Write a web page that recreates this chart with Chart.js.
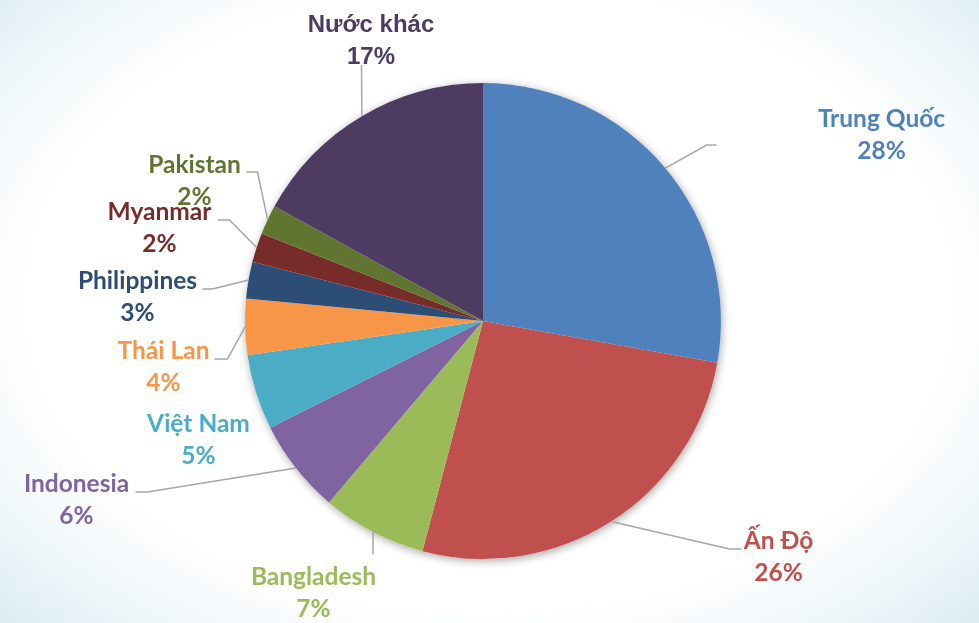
<!DOCTYPE html>
<html>
<head>
<meta charset="utf-8">
<script src="https://cdn.jsdelivr.net/npm/chart.js@4/dist/chart.umd.min.js"></script>
<style>
  html, body { margin: 0; padding: 0; }
  #wrap {
    width: 979px;
    height: 623px;
    position: relative;
    background: radial-gradient(ellipse 75% 80% at 50% 48%, #ffffff 62%, #eef6f9 80%, #d1e6ee 100%);
  }
</style>
</head>
<body>
<div id="wrap"><canvas id="pieCanvas"></canvas></div>
<script>
// Du lieu
const countries = ["Trung Quốc", "Ấn Độ", "Bangladesh", "Indonesia", "Việt Nam", "Thái Lan", "Philippines", "Myanmar", "Pakistan", "Nước khác"];
const shares = [27.8, 26.3, 7.1, 6.4, 5.1, 3.8, 2.5, 2.0, 2.0, 17.0];
const colors = ["#4F81BD", "#C0504D", "#9BBB59", "#8064A2", "#4BACC6", "#F79646", "#2C4D75", "#772C2A", "#5F7530", "#4D3B62"];

// vi tri nhan, tinh tu tam hinh tron (px)
const labelPos = [
    { x: 398.5, y: -194, elbow: [223.5, -176], end: [233.5, -176] },
    { x: 295.5, y: 228, elbow: [246.5, 228], end: [258.5, 228] },
    { x: -169.5, y: 264, elbow: null, end: [-110, 233] },
    { x: -406.5, y: 171, elbow: [-335.5, 171], end: [-347.5, 171] },
    { x: -284.5, y: 111, elbow: null, end: null },
    { x: -319.5, y: 38, elbow: [-255.5, 38], end: [-268.5, 38] },
    { x: -345.5, y: -32, elbow: [-270.5, -32], end: [-280.5, -32] },
    { x: -323.5, y: -101, elbow: [-253.5, -101], end: [-265.5, -101] },
    { x: -288.5, y: -148, elbow: [-225.5, -149], end: [-236.5, -149] },
    { x: -112, y: -289, elbow: null, end: [-121.5, -256] },
];

const pieShadow = {
    id: "pieShadow",
    beforeDatasetsDraw(chart) {
        const arc = chart.getDatasetMeta(0).data[0];
        const ctx = chart.ctx;
        ctx.save();
        ctx.shadowColor = "rgba(0,0,0,0.35)";
        ctx.shadowBlur = 9;
        ctx.shadowOffsetX = 1;
        ctx.shadowOffsetY = 2;
        ctx.fillStyle = "#ffffff";
        ctx.beginPath();
        ctx.arc(arc.x, arc.y, arc.outerRadius, 0, Math.PI * 2);
        ctx.fill();
        ctx.restore();
    }
};

const pieLabels = {
    id: "pieLabels",
    afterDatasetsDraw(chart) {
        const ctx = chart.ctx;
        const meta = chart.getDatasetMeta(0);
        const total = shares.reduce((a, b) => a + b, 0);
        ctx.save();
        meta.data.forEach((arc, i) => {
            const cx = arc.x, cy = arc.y;
            const lp = labelPos[i];
            // duong dan
            if (lp.end) {
                const mid = (arc.startAngle + arc.endAngle) / 2;
                const sx = cx + Math.cos(mid) * arc.outerRadius;
                const sy = cy + Math.sin(mid) * arc.outerRadius;
                ctx.strokeStyle = "#a6a6a6";
                ctx.lineWidth = 1.5;
                ctx.beginPath();
                ctx.moveTo(sx, sy);
                if (lp.elbow) ctx.lineTo(cx + lp.elbow[0], cy + lp.elbow[1]);
                ctx.lineTo(cx + lp.end[0], cy + lp.end[1]);
                ctx.stroke();
            }
            const pct = Math.round(shares[i] / total * 100) + "%";
            ctx.fillStyle = colors[i];
            ctx.textAlign = "center";
            ctx.textBaseline = "alphabetic";
            ctx.font = i === 9 ? "bold 24px 'Liberation Sans', Arial" : "bold 24.5px Lato, 'Open Sans'";
            ctx.fillText(countries[i], cx + lp.x, cy + lp.y);
            ctx.fillText(pct, cx + lp.x, cy + lp.y + 32);
        });
        ctx.restore();
    }
};

const pieCanvas = document.getElementById("pieCanvas");

const pieChart = new Chart(pieCanvas, {
    type: "pie",
    data: {
        labels: countries,
        datasets: [
            {
                data: shares,
                backgroundColor: colors,
                borderWidth: 0,
                hoverOffset: 0,
            },
        ],
    },
    options: {
        responsive: true,
        maintainAspectRatio: false,
        animation: false,
        layout: {
            padding: { top: 83, bottom: 64, left: 244, right: 257 },
        },
        plugins: {
            legend: { display: false },
            tooltip: { enabled: false },
        },
    },
    plugins: [pieShadow, pieLabels],
});
</script>
</body>
</html>
